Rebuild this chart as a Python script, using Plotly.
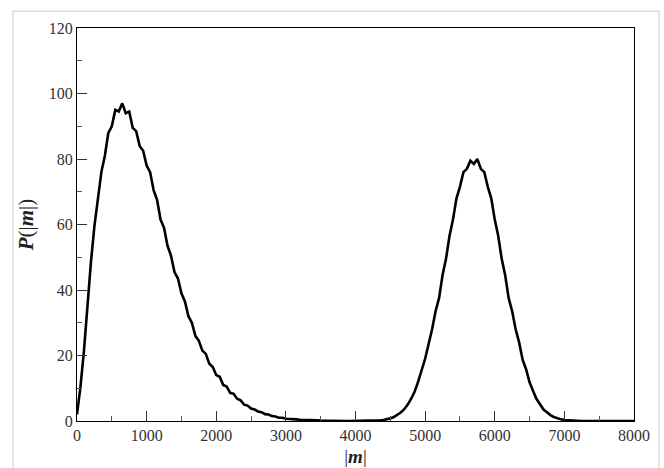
import plotly.graph_objects as go

# |m| values (step 50) and probability P(|m|)
m_vals = list(range(0, 8001, 50))
p_vals = [
    2, 10.5, 21.5, 35.5, 48.5, 59.5, 67.5, 76, 81, 88,
    90, 95, 94.5, 97, 94, 94.5, 89.5, 88.5, 84, 82.5,
    78, 76, 70.5, 67.5, 61.5, 59, 53.5, 50.5, 45.5, 43.5,
    39, 36.5, 32, 30, 26, 24.5, 21.5, 20.5, 17.5, 16.5,
    14, 13.5, 11, 10.5, 8.6, 8.3, 6.8, 6.3, 5, 4.7,
    3.8, 3.5, 2.9, 2.7, 2.1, 2, 1.5, 1.4, 1.0, 1.0,
    0.7,
    0.7, 0.5, 0.5, 0.4, 0.4, 0.3, 0.3, 0.2, 0.2, 0.15,
    0.1, 0.1, 0.1, 0.05, 0.05, 0, 0, 0, 0, 0,
    0, 0, 0, 0.05, 0.1, 0.1, 0.2, 0.3, 0.5, 0.8,
    1.2, 1.8, 2.6, 3.6, 5, 6.8, 9, 12, 15.5, 19,
    23.5, 28, 33.5, 37.5, 44.5, 49.5, 56.5, 61.5, 68, 71.5,
    76, 77, 79.5, 78.5, 80, 77, 76, 71.5, 68, 61.5,
    56.5, 49.5, 44.5, 37.5, 33.5, 28, 24, 18.7, 15.8, 11.8,
    9.2, 6.7, 5.1, 3.5, 2.7, 1.8, 1.2, 0.8, 0.5, 0.3,
    0.2, 0.1, 0.05,
    0, 0, 0, 0, 0, 0, 0, 0, 0, 0,
    0, 0, 0, 0, 0, 0, 0,
]
assert len(m_vals) == len(p_vals), (len(m_vals), len(p_vals))

x_ticks = [0, 1000, 2000, 3000, 4000, 5000, 6000, 7000, 8000]
y_ticks = [0, 20, 40, 60, 80, 100, 120]

FONT = "Liberation Serif"

fig = go.Figure()
fig.add_trace(go.Scatter(
    x=m_vals, y=p_vals, mode="lines",
    line=dict(color="black", width=2.6),
    showlegend=False, hoverinfo="skip",
))

axis_common = dict(
    showgrid=False, zeroline=False, automargin=False,
    showline=True, linecolor="black", linewidth=1.3, mirror=True,
    ticks="inside", ticklen=10, tickwidth=1, tickcolor="#333",
    tickfont=dict(family=FONT, size=16, color="#333"),
)

fig.update_xaxes(
    range=[0, 8000], tickvals=x_ticks, ticktext=[str(v) for v in x_ticks],
    minor=dict(dtick=500, ticklen=5, ticks="inside", tickcolor="#555"),
    title=dict(text="|<b><i>m</i></b>|", font=dict(family=FONT, size=19, color="#222"), standoff=6),
    **axis_common,
)
fig.update_yaxes(
    range=[0, 120], tickvals=y_ticks, ticktext=[str(v) for v in y_ticks],
    minor=dict(dtick=10, ticklen=5, ticks="inside", tickcolor="#555"),
    title=dict(text="<b><i>P</i></b>(|<b><i>m</i></b>|)", font=dict(family=FONT, size=21, color="#222"), standoff=9),
    **axis_common,
)

# light grey frame around the whole figure
fig.add_shape(type="rect", xref="paper", yref="paper",
              x0=-0.115, x1=1.045, y0=-0.25, y1=1.043,
              line=dict(color="#c8c8c8", width=1), fillcolor="rgba(0,0,0,0)", layer="below")

fig.update_layout(
    width=664, height=468,
    margin=dict(l=77, r=30, t=28, b=47),
    paper_bgcolor="white", plot_bgcolor="white",
    font=dict(family=FONT),
)

fig.write_html("out.html", config={"displayModeBar": False},
               post_script="document.body.style.margin='0';document.body.style.overflow='hidden';")
